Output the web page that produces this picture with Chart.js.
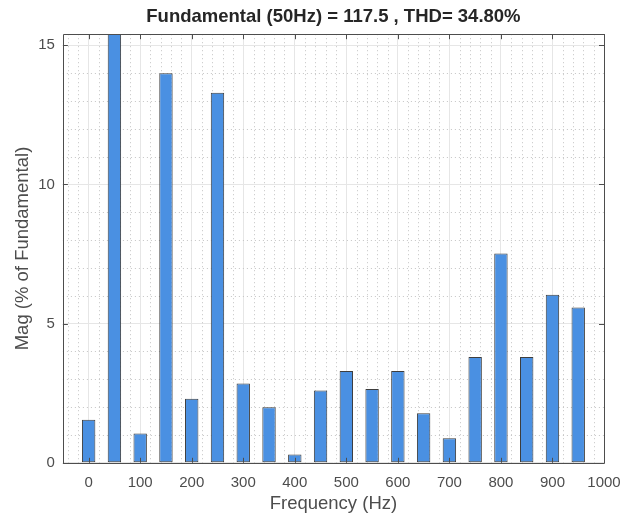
<!DOCTYPE html>
<html>
<head>
<meta charset="utf-8">
<script src="https://cdn.jsdelivr.net/npm/chart.js@4"></script>
<style>
  html, body { margin: 0; padding: 0; background: #fff; }
  #wrap { width: 623px; height: 518px; }
</style>
</head>
<body>
<div id="wrap"><canvas id="fftChart" width="623" height="518"></canvas></div>
<script>
// harmonic spectrum, % of fundamental (50 Hz bar is the fundamental = 100%, clipped)
const freqs = [0, 50, 100, 150, 200, 250, 300, 350, 400, 450,
               500, 550, 600, 650, 700, 750, 800, 850, 900, 950];
const mags = [1.55, 100, 1.05, 14.0, 2.3, 13.3, 2.85, 2.0, 0.3, 2.6,
              3.3, 2.65, 3.3, 1.78, 0.88, 3.8, 7.52, 3.8, 6.04, 5.58];
const xTicks = [0, 100, 200, 300, 400, 500, 600, 700, 800, 900, 1000];
const yTicks = [0, 5, 10, 15];
const xMinorTicks = [];
for (let v = -40; v <= 1000; v += 20) xMinorTicks.push(v);
const yMinorTicks = [];
for (let v = 1; v <= 15; v += 1) yMinorTicks.push(v);
const titleText = 'Fundamental (50Hz) = 117.5 , THD= 34.80%';

const fontFam = '"Liberation Sans", Arial, Helvetica, sans-serif';

// dotted minor grid, drawn under the bars
const minorGrid = {
  id: 'minorGrid',
  beforeDatasetsDraw(chart) {
    const { ctx, chartArea: a, scales } = chart;
    ctx.save();
    ctx.strokeStyle = '#c4c4c4';
    ctx.lineWidth = 1;
    ctx.setLineDash([1, 3]);
    ctx.beginPath();
    xMinorTicks.forEach(v => {
      if (xTicks.includes(v)) return;
      const px = Math.round(scales.x.getPixelForValue(v)) + 0.5;
      ctx.moveTo(px, a.top); ctx.lineTo(px, a.bottom);
    });
    yMinorTicks.forEach(v => {
      if (yTicks.includes(v)) return;
      const py = Math.round(scales.y.getPixelForValue(v)) + 0.5;
      ctx.moveTo(a.left, py); ctx.lineTo(a.right, py);
    });
    ctx.stroke();
    ctx.restore();
  }
};

// MATLAB style box with inward ticks
const boxPlugin = {
  id: 'box',
  afterDatasetsDraw(chart) {
    const { ctx, chartArea: a, scales } = chart;
    ctx.save();
    ctx.strokeStyle = '#4d4d4d';
    ctx.lineWidth = 1;
    ctx.beginPath();
    ctx.rect(Math.round(a.left) + 0.5, Math.round(a.top) + 0.5,
             Math.round(a.right - a.left), Math.round(a.bottom - a.top));
    ctx.stroke();
    ctx.beginPath();
    const tl = 5;
    xTicks.forEach(v => {
      const px = Math.round(scales.x.getPixelForValue(v)) + 0.5;
      ctx.moveTo(px, a.bottom); ctx.lineTo(px, a.bottom - tl);
      ctx.moveTo(px, a.top); ctx.lineTo(px, a.top + tl);
    });
    yTicks.forEach(v => {
      const py = Math.round(scales.y.getPixelForValue(v)) + 0.5;
      ctx.moveTo(a.left, py); ctx.lineTo(a.left + tl, py);
      ctx.moveTo(a.right, py); ctx.lineTo(a.right - tl, py);
    });
    ctx.stroke();
    ctx.restore();
  }
};

const ctx = document.getElementById('fftChart').getContext('2d');
const chart = new Chart(ctx, {
  type: 'bar',
  data: {
    datasets: [{
      data: freqs.map((f, i) => ({ x: f, y: mags[i] })),
      backgroundColor: '#4a90e2',
      borderColor: '#3d3d3d',
      borderWidth: 1,
      borderSkipped: false,
      barPercentage: 0.52,
      categoryPercentage: 1.0
    }]
  },
  options: {
    responsive: false,
    animation: false,
    layout: { padding: { left: 12, right: 19, top: 2, bottom: 3 } },
    plugins: {
      legend: { display: false },
      tooltip: { enabled: false },
      title: {
        display: true,
        fullSize: false,
        text: titleText,
        color: '#262626',
        font: { family: fontFam, size: 18.5, weight: 'bold' },
        padding: { top: 4, bottom: 6 }
      }
    },
    scales: {
      x: {
        type: 'linear',
        offset: false,
        min: -50, max: 1000,
        afterBuildTicks: s => { s.ticks = xTicks.map(v => ({ value: v })); },
        // "1000" may hang past the right edge, like in MATLAB
        afterFit: s => { s.paddingRight = 0; },
        ticks: {
          color: '#4d4d4d',
          font: { family: fontFam, size: 15 },
          padding: 11,
          maxRotation: 0,
          autoSkip: false,
          callback: v => String(v)
        },
        grid: { color: '#e6e6e6', drawTicks: false, offset: false },
        border: { display: false },
        title: {
          display: true, text: 'Frequency (Hz)', color: '#4d4d4d',
          font: { family: fontFam, size: 18.5 }, padding: { top: -10, bottom: 0 }
        }
      },
      y: {
        min: 0, max: 15.4,
        afterBuildTicks: s => { s.ticks = yTicks.map(v => ({ value: v })); },
        ticks: {
          color: '#4d4d4d',
          font: { family: fontFam, size: 15 },
          padding: 8
        },
        grid: { color: '#e6e6e6', drawTicks: false },
        border: { display: false },
        title: {
          display: true, text: 'Mag (% of Fundamental)', color: '#4d4d4d',
          font: { family: fontFam, size: 18.5 }, padding: { top: 0, bottom: -4 }
        }
      }
    }
  },
  plugins: [minorGrid, boxPlugin]
});
</script>
</body>
</html>
